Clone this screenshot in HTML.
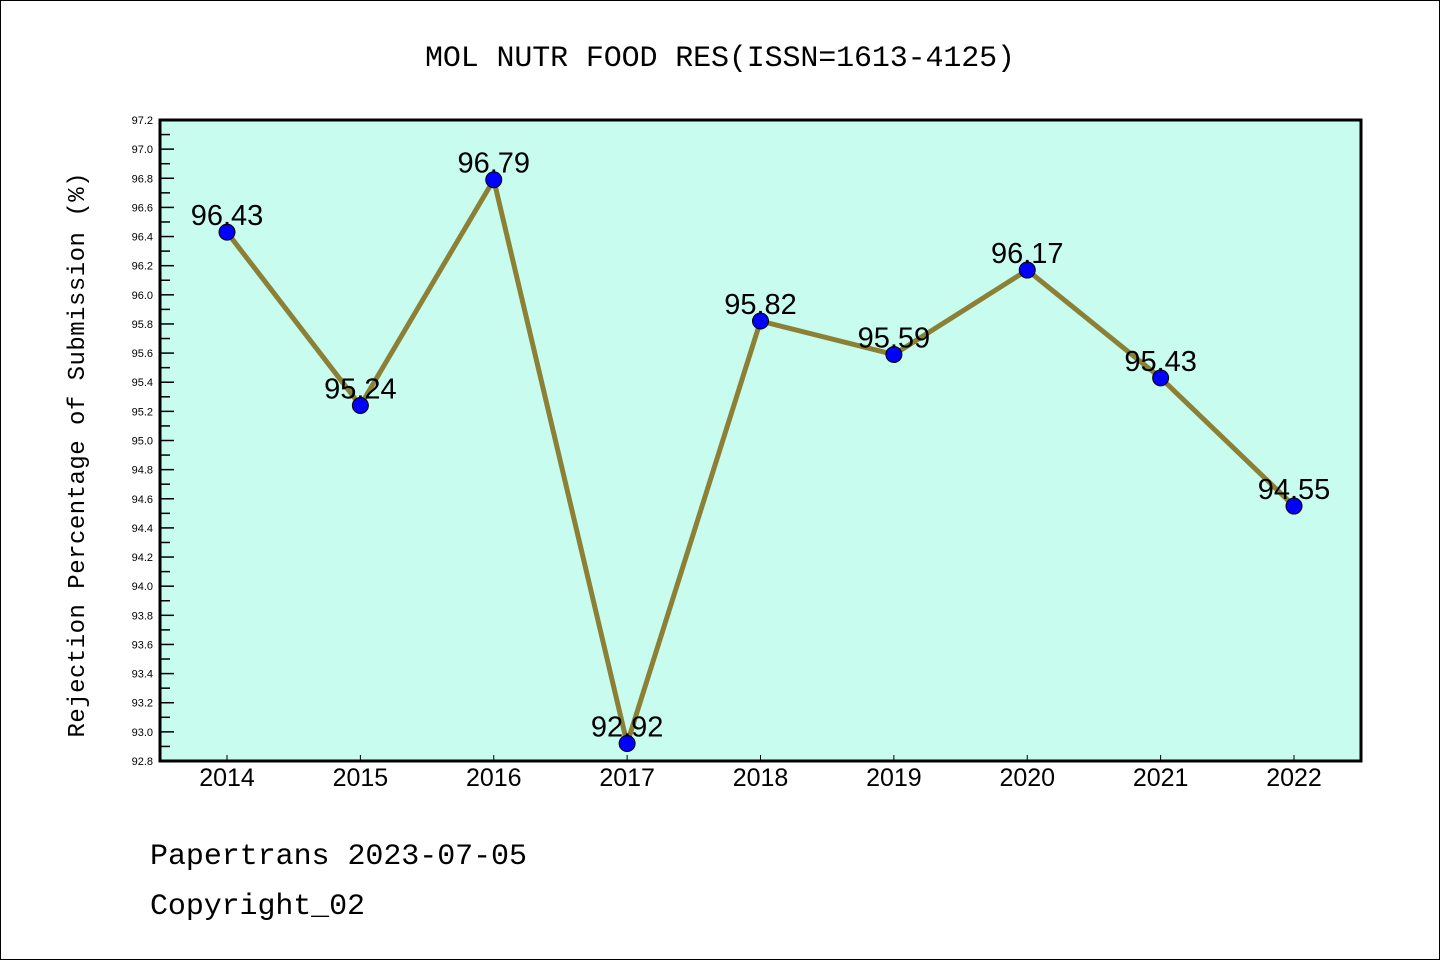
<!DOCTYPE html>
<html><head><meta charset="utf-8"><style>
html,body{margin:0;padding:0;background:#fff}
svg{display:block}
.mono{font-family:"Liberation Mono","DejaVu Sans Mono",monospace}
.sans{font-family:"Liberation Sans","DejaVu Sans",sans-serif}
</style></head><body>
<svg id="chart" width="1440" height="960" xmlns="http://www.w3.org/2000/svg">
<rect x="0.5" y="0.5" width="1439" height="959" fill="#fff" stroke="#000" stroke-width="1"/>
<text class="mono" x="720" y="66" text-anchor="middle" font-size="30" textLength="590">MOL NUTR FOOD RES(ISSN=1613-4125)</text>
<rect x="160" y="120" width="1201" height="641" fill="#c8fcee"/>
<g id="yaxis"></g>
<g id="xaxis"></g>
<g id="series"></g>
<rect x="160" y="120" width="1201" height="641" fill="none" stroke="#000" stroke-width="3"/>
<text class="mono" transform="translate(84,455) rotate(-90)" text-anchor="middle" font-size="24" textLength="565">Rejection Percentage of Submission (%)</text>
<text class="mono" x="150" y="864" font-size="30" textLength="377">Papertrans 2023-07-05</text>
<text class="mono" x="150" y="914" font-size="30" textLength="215">Copyright_02</text>
</svg>
<script>
const categories=["2014","2015","2016","2017","2018","2019","2020","2021","2022"];
const values=[96.43,95.24,96.79,92.92,95.82,95.59,96.17,95.43,94.55];
const valueLabels=["96.43","95.24","96.79","92.92","95.82","95.59","96.17","95.43","94.55"];
const yMin=92.8, yMax=97.2;
const NS="http://www.w3.org/2000/svg";
const L=160,R=1361,T=120,B=761;
function y(v){return T+(yMax-v)/(yMax-yMin)*(B-T);}
function x(i){return 227+i*(1294-227)/(categories.length-1);}
function mk(tag,attrs,parent){const e=document.createElementNS(NS,tag);for(const k in attrs)e.setAttribute(k,attrs[k]);parent.appendChild(e);return e;}
const ya=document.getElementById('yaxis');
for(let k=0;k<=Math.round((yMax-yMin)*10);k++){
  const v=yMin+k*0.1, yy=y(v), major=k%2===0;
  const t=mk('line',{x1:L,x2:L+(major?14:10),y1:yy,y2:yy,stroke:'#000','stroke-width':1.5},ya);
  
  
  if(major){
    const lb=mk('text',{x:153,y:yy+4,'text-anchor':'end','font-size':11,'class':'sans'},ya);
    lb.textContent=v.toFixed(1);
    
    
  }
}
const xa=document.getElementById('xaxis');
categories.forEach((c,i)=>{
  const t=mk('line',{x1:x(i),x2:x(i),y1:B,y2:B-6,stroke:'#000','stroke-width':1},xa);
  
  
  const lb=mk('text',{x:x(i),y:786,'text-anchor':'middle','font-size':25,'class':'sans'},xa);
  lb.textContent=c;
  
  
});
const s=document.getElementById('series');
const pl=mk('polyline',{points:values.map((v,i)=>x(i)+','+y(v)).join(' '),fill:'none',stroke:'#8b8035','stroke-width':5,'stroke-linejoin':'round'},s);


values.forEach((v,i)=>{
  const c=mk('circle',{cx:x(i),cy:y(v),r:8,fill:'#0000ff',stroke:'#000','stroke-width':1},s);
  
  
  const lb=mk('text',{x:x(i),y:y(v)-7,'text-anchor':'middle','font-size':29,'class':'sans'},s);
  lb.textContent=valueLabels[i];
  
  
});
</script>
</body></html>
